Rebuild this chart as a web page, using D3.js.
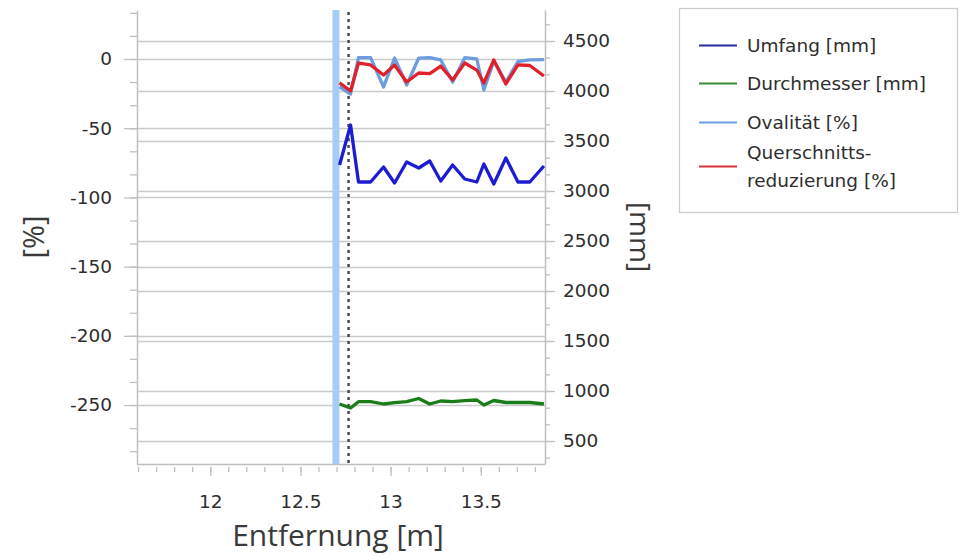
<!DOCTYPE html>
<html><head><meta charset="utf-8">
<script src="https://cdn.jsdelivr.net/npm/d3@7"></script>
<style>body{margin:0;background:#fff}svg{display:block}</style>
</head><body>
<svg id="c" width="961" height="556"></svg>
<script>
// ---- data ----
const distance = [12.717,12.778,12.822,12.889,12.961,13.022,13.089,13.156,13.217,13.278,13.344,13.411,13.478,13.517,13.572,13.639,13.706,13.772,13.850];
const umfang = [3260,3660,3090,3090,3240,3080,3290,3230,3300,3100,3260,3120,3090,3270,3070,3330,3090,3090,3250];
const durchmesser = [870,830,893,893,870,883,893,925,870,900,893,903,910,860,905,885,885,885,870];
const ovalitaet = [-20.2,-25.3,1,1,-20.2,0.7,-18.8,0.7,1,-0.7,-16.6,1,0,-22.4,-1.4,-16.6,-1.8,-0.7,-0.4];
const querschnitt = [-17.3,-23.1,-2.9,-4.3,-11.6,-4.3,-16.6,-10.1,-10.5,-5.1,-15.2,-2.9,-8,-17.3,-0.7,-18,-4.3,-4.7,-12.3];
const seriesNames = ["Umfang [mm]","Durchmesser [mm]","Ovalität [%]","Querschnitts-\nreduzierung [%]"];
const xTicks = [12,12.5,13,13.5];
const leftTicks = [-250,-200,-150,-100,-50,0];
const rightTicks = [500,1000,1500,2000,2500,3000,3500,4000,4500];
const bandPos = 12.697;
const cursorPos = 12.767;
const xDomain = [11.594,13.856];
const leftDomain = [-292.6,35.4];
const rightDomain = [270,4810];

// ---- layout ----
const L=137,R=545,T=10,B=464;
const svg=d3.select("#c");
const x=d3.scaleLinear().domain(xDomain).range([L,R]);
const yL=d3.scaleLinear().domain(leftDomain).range([B,T]);
const yR=d3.scaleLinear().domain(rightDomain).range([B,T]);
const gridC="#cacaca", axisC="#c0c0c0", txtC="#2e2e2e";
const tickFont="DejaVu Sans";

// gridlines
const g=svg.append("g");
g.selectAll("line.gl").data(leftTicks).join("line")
 .attr("x1",L).attr("x2",R).attr("y1",d=>Math.round(yL(d))+0.5).attr("y2",d=>Math.round(yL(d))+0.5)
 .attr("stroke",gridC).attr("stroke-width",1.4);
g.selectAll("line.gr").data(rightTicks).join("line")
 .attr("x1",L).attr("x2",R).attr("y1",d=>Math.round(yR(d))+0.5).attr("y2",d=>Math.round(yR(d))+0.5)
 .attr("stroke",gridC).attr("stroke-width",1.4);

function range(a,b,s){const o=[];for(let v=a;v<=b+1e-9;v+=s)o.push(v);return o;}
const leftMinor=range(-300,50,50/3).filter(v=>v>=leftDomain[0]&&v<=leftDomain[1]);
const rightMinor=range(0,5000,500/3).filter(v=>v>=rightDomain[0]&&v<=rightDomain[1]);
const xMinor=range(11.6,13.85,0.1).filter(v=>v>=xDomain[0]&&v<=xDomain[1]);

function styleAxis(sel){
  sel.select(".domain").attr("stroke",axisC).attr("stroke-width",1.5);
  sel.selectAll(".tick line").attr("stroke",axisC).attr("stroke-width",1.3);
  sel.selectAll("text").attr("fill",txtC).attr("font-family",tickFont).attr("font-size","18.5px");
}
// left axis
const aLm=svg.append("g").attr("transform",`translate(${L},0)`)
 .call(d3.axisLeft(yL).tickValues(leftMinor).tickSize(7).tickFormat(""));
aLm.select(".domain").remove(); aLm.selectAll("line").attr("stroke",axisC).attr("stroke-width",1.3);
const aL=svg.append("g").attr("transform",`translate(${L},0)`)
 .call(d3.axisLeft(yL).tickValues(leftTicks).tickSize(13).tickSizeOuter(0).tickPadding(12).tickFormat(d=>String(d)));
styleAxis(aL);
// right axis
const aRm=svg.append("g").attr("transform",`translate(${R},0)`)
 .call(d3.axisRight(yR).tickValues(rightMinor).tickSize(5).tickFormat(""));
aRm.select(".domain").remove(); aRm.selectAll("line").attr("stroke",axisC).attr("stroke-width",1.3);
const aR=svg.append("g").attr("transform",`translate(${R},0)`)
 .call(d3.axisRight(yR).tickValues(rightTicks).tickSize(10).tickSizeOuter(0).tickPadding(8).tickFormat(d=>String(d)));
styleAxis(aR);
// bottom axis
svg.append("line").attr("x1",L).attr("x2",R).attr("y1",B+0.5).attr("y2",B+0.5).attr("stroke",axisC).attr("stroke-width",1.5);
const aBm=svg.append("g").attr("transform",`translate(0,${B+3})`)
 .call(d3.axisBottom(x).tickValues(xMinor).tickSize(5).tickFormat(""));
aBm.select(".domain").remove(); aBm.selectAll("line").attr("stroke",axisC).attr("stroke-width",1.3);
const aB=svg.append("g").attr("transform",`translate(0,${B+3})`)
 .call(d3.axisBottom(x).tickValues(xTicks).tickSize(9).tickSizeOuter(0).tickPadding(19).tickFormat(d=>String(d)));
aB.select(".domain").remove();
styleAxis(aB);

// band & cursor
svg.append("rect").attr("x",x(bandPos)-3.5).attr("width",7).attr("y",T).attr("height",B-T).attr("fill","#a7cdf4");
svg.append("line").attr("x1",x(cursorPos)).attr("x2",x(cursorPos)).attr("y1",T+2).attr("y2",B)
 .attr("stroke","#4a4a4a").attr("stroke-width",2.5).attr("stroke-dasharray","3,4");

// series
const colors=["#1c1cd2","#1a7d1a","#6d9de0","#e0212b"];
const sets=[[umfang,yR],[durchmesser,yR],[ovalitaet,yL],[querschnitt,yL]];
sets.forEach(([vals,sc],i)=>{
  const line=d3.line().x((d,j)=>x(distance[j])).y(d=>sc(d));
  svg.append("path").datum(vals).attr("d",line).attr("fill","none")
   .attr("stroke",colors[i]).attr("stroke-width",3.3).attr("stroke-linejoin","round");
});

// axis titles
svg.append("text").attr("transform","translate(44,237) rotate(-90)").attr("text-anchor","middle")
 .attr("font-family","Open Sans").attr("font-size","29px").attr("fill","#3a3a3a").text("[%]");
svg.append("text").attr("transform","translate(630,237) rotate(90)").attr("text-anchor","middle")
 .attr("font-family","Open Sans").attr("font-size","28px").attr("fill","#3a3a3a").text("[mm]");
svg.append("text").attr("x",338).attr("y",546).attr("text-anchor","middle")
 .attr("font-family","Open Sans").attr("font-size","30px").attr("fill","#3a3a3a").text("Entfernung [m]");

// legend
const lg=svg.append("g");
lg.append("rect").attr("x",679.5).attr("y",8.5).attr("width",278).attr("height",204)
 .attr("fill","#fff").attr("stroke","#cccccc").attr("stroke-width",1.3);
const legColors=["#2a2aa0","#3c8c3c","#6d9de0","#d9333a"];
const rowsY=[45,83,122,166];
seriesNames.forEach((n,i)=>{
  lg.append("line").attr("x1",699).attr("x2",737).attr("y1",rowsY[i]+0.5).attr("y2",rowsY[i]+0.5)
   .attr("stroke",legColors[i]).attr("stroke-width",2);
  const parts=n.split("\n");
  const t=lg.append("text").attr("font-family",tickFont).attr("font-size","18.5px").attr("fill",txtC);
  parts.forEach((p,k)=>{
    t.append("tspan").attr("x",747).attr("y",rowsY[i]+7+(k-(parts.length-1)/2)*28).text(p);
  });
});
</script>
</body></html>
